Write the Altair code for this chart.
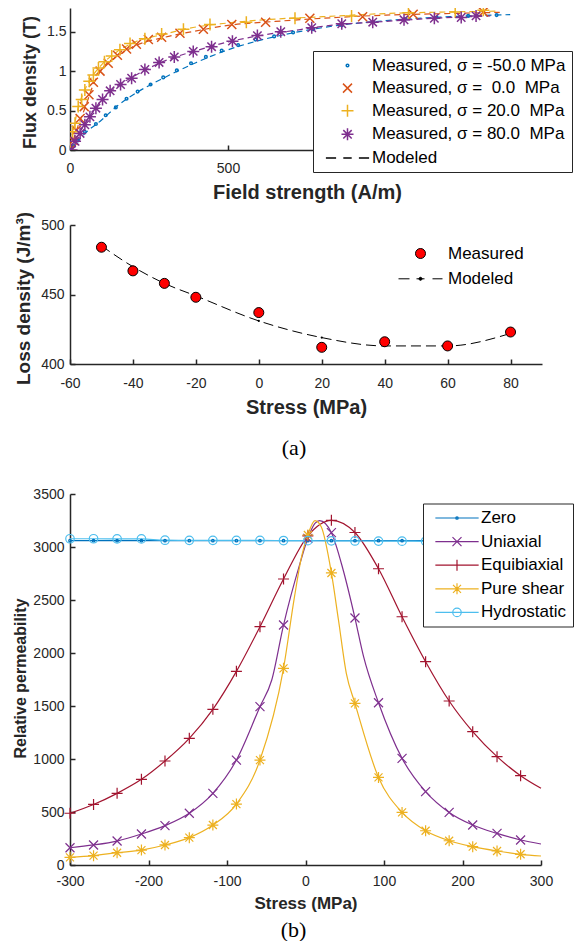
import altair as alt
import pandas as pd

FONT = "Liberation Sans"
AX = "#262626"

# ================= (a) top : flux density vs field strength =================
H_N50 = [0, 12, 25, 47, 82, 113, 145, 179, 214, 255, 295, 338, 383, 430, 480, 532, 587, 646, 706, 770, 860, 960, 1060, 1160, 1260, 1350]
B_N50 = [0, 0.05, 0.12, 0.23, 0.33, 0.44, 0.54, 0.65, 0.74, 0.83, 0.92, 1.01, 1.10, 1.18, 1.26, 1.33, 1.40, 1.44, 1.49, 1.53, 1.58, 1.62, 1.66, 1.68, 1.70, 1.71]
H_0 = [0, 10, 20, 32, 45, 60, 74, 95, 121, 150, 179, 210, 248, 290, 348, 422, 512, 619, 759, 926, 1086, 1308]
B_0 = [0, 0.12, 0.25, 0.40, 0.55, 0.70, 0.86, 1.00, 1.10, 1.20, 1.28, 1.34, 1.40, 1.43, 1.48, 1.53, 1.59, 1.62, 1.67, 1.69, 1.72, 1.75]
H_20 = [0, 8, 16, 26, 37, 47, 61, 74, 90, 109, 132, 158, 190, 237, 290, 359, 443, 558, 712, 891, 1071, 1219, 1308]
B_20 = [0, 0.23, 0.34, 0.55, 0.64, 0.76, 0.87, 0.95, 1.04, 1.12, 1.19, 1.27, 1.35, 1.41, 1.47, 1.53, 1.59, 1.62, 1.67, 1.70, 1.74, 1.75, 1.77]
H_80 = [5, 16, 32, 47, 63, 82, 103, 127, 160, 195, 237, 282, 330, 390, 448, 514, 593, 667, 765, 860, 958, 1057, 1153, 1238, 1285]
B_80 = [0, 0.11, 0.21, 0.32, 0.42, 0.53, 0.64, 0.75, 0.83, 0.91, 1.02, 1.11, 1.18, 1.25, 1.31, 1.38, 1.45, 1.50, 1.55, 1.60, 1.62, 1.65, 1.67, 1.68, 1.70]

HM_N50 = [0, 50, 100, 150, 200, 300, 400, 500, 600, 700, 850, 1000, 1200, 1393]
BM_N50 = [0, 0.22, 0.38, 0.56, 0.70, 0.92, 1.11, 1.27, 1.39, 1.48, 1.58, 1.64, 1.69, 1.716]
HM_0 = [0, 25, 50, 75, 100, 150, 200, 300, 400, 500, 650, 800, 1000, 1200, 1360]
BM_0 = [0, 0.30, 0.56, 0.84, 1.02, 1.19, 1.31, 1.43, 1.51, 1.58, 1.63, 1.67, 1.71, 1.73, 1.745]
HM_20 = [0, 25, 50, 75, 100, 150, 200, 300, 400, 500, 650, 800, 1000, 1200, 1350]
BM_20 = [0, 0.52, 0.79, 0.96, 1.08, 1.25, 1.36, 1.47, 1.56, 1.61, 1.66, 1.69, 1.73, 1.75, 1.76]
HM_80 = [0, 50, 100, 150, 200, 300, 400, 500, 600, 700, 850, 1000, 1150, 1330]
BM_80 = [0, 0.35, 0.63, 0.81, 0.93, 1.13, 1.26, 1.37, 1.45, 1.51, 1.59, 1.63, 1.67, 1.70]

NB = "\u00a0"
LAB1 = ["Measured, σ = -50.0 MPa",
        f"Measured, σ ={NB}{NB}0.0{NB}{NB}MPa",
        f"Measured, σ = 20.0{NB}{NB}MPa",
        f"Measured, σ = 80.0{NB}{NB}MPa"]
LEG1 = LAB1 + ["Modeled"]
COL1 = ["#0072BD", "#D95319", "#EDB120", "#7E2F8E", "#000000"]

# ================= (a) bottom : loss density vs stress =================
STRESS_LOSS = [-50, -40, -30, -20, 0, 20, 40, 60, 80]
LOSS_MEAS = [484, 467, 458, 448, 437, 412, 416, 413, 423]
LOSS_MOD = [485, 470, 458, 449, 431, 419, 413, 413, 422]

# ================= (b) : relative permeability vs stress =================
LAB3 = ["Zero", "Uniaxial", "Equibiaxial", "Pure shear", "Hydrostatic"]
COL3 = ["#0072BD", "#7E2F8E", "#A2142F", "#EDB120", "#4DBEEE"]
STRESS_MK = [-300, -270, -240, -209, -179, -148, -118, -88, -58, -28, 3, 33, 63, 93, 123, 153, 183, 213, 244, 274]
MK_ZERO = [3060, 3060, 3060, 3060, 3060, 3060, 3060, 3060, 3060, 3060, 3060, 3060, 3060, 3060, 3060, 3060, 3060, 3060, 3060, 3060]
MK_UNI = [163, 189, 226, 292, 371, 488, 676, 990, 1494, 2264, 3082, 3135, 2330, 1531, 1006, 692, 496, 377, 298, 236]
MK_EQU = [488, 571, 676, 808, 981, 1195, 1469, 1827, 2248, 2698, 3105, 3252, 3137, 2795, 2342, 1918, 1547, 1258, 1022, 843]
MK_PSH = [72, 88, 116, 141, 189, 258, 377, 575, 990, 1855, 3113, 2755, 1525, 826, 496, 323, 229, 173, 132, 101]
MK_HYD = [3078, 3078, 3077, 3076, 3064, 3063, 3063, 3062, 3062, 3061, 3060, 3058, 3057, 3056, 3055, 3054, 3053, 3052, 3051, 3050]

# extra points (between markers and at the right end)
EX_ZERO_S = [300]; EX_ZERO_V = [3060]
EX_UNI_S = [-43, -7, 12, 18, 48, 74, 300]; EX_UNI_V = [1745, 2846, 3222, 3248, 2783, 1965, 198]
EX_EQU_S = [300]; EX_EQU_V = [724]
EX_PSH_S = [-14, -5, 12, 20, 42, 52, 300]; EX_PSH_V = [2531, 2909, 3248, 3191, 2311, 1808, 85]
EX_HYD_S = [300]; EX_HYD_V = [3049]


def circ(r):
    return f"M{r},0A{r},{r} 0 1,1 -{r},0A{r},{r} 0 1,1 {r},0Z"

XS = "M-0.75,-0.75L0.75,0.75M-0.75,0.75L0.75,-0.75"
PLUS = "M-1,0H1M0,-1V1"
AST = "M-1,0H1M0,-1V1M-0.7,-0.7L0.7,0.7M-0.7,0.7L0.7,-0.7"
DASH1 = "M-3.6,0H-1.9M-0.7,0H0.7M1.9,0H3.6"
SHP1 = [circ(0.22), XS, PLUS, AST, DASH1]
DASH2 = "M-4.4,0H-2.2M-0.8,0H0.8M2.4,0H4.4" + circ(0.3)

MK3 = [circ(0.25), "M-0.9,-0.9L0.9,0.9M-0.9,0.9L0.9,-0.9", "M-1.1,0H1.1M0,-1.1V1.1",
       "M-1.1,0H1.1M0,-1.1V1.1M-0.8,-0.8L0.8,0.8M-0.8,0.8L0.8,-0.8", circ(0.85)]
LEGSHP3 = ["M-4.33,0H4.33" + m for m in MK3]


def tick_layer(df, xf, yf, xs, ys, xv, yv, W, H):
    # extra axes moved onto the plot edges so that their ticks point inward (MATLAB style)
    return alt.Chart(df).transform_filter("false").mark_point(opacity=0).encode(
        x=alt.X(f"{xf}:Q", scale=xs, axis=alt.Axis(orient="top", offset=-H, values=xv, labels=False,
                                                     domain=False, ticks=True, tickSize=5, tickWidth=1.5,
                                                     tickColor=AX, title=None, grid=False)),
        y=alt.Y(f"{yf}:Q", scale=ys, axis=alt.Axis(orient="right", offset=-W, values=yv, labels=False,
                                                     domain=False, ticks=True, tickSize=5, tickWidth=1.5,
                                                     tickColor=AX, title=None, grid=False)),
    )


def main_x(values, title, fs, ty, lp):
    return alt.Axis(values=values, title=title, titleFontSize=fs, titleY=ty, titleBaseline="alphabetic",
                    labelPadding=lp, labelExpr="'' + datum.value", ticks=False, tickSize=0)


def main_y(values, title, fs, tx, ty, lp):
    return alt.Axis(values=values, title=title, titleFontSize=fs, titleX=tx, titleY=ty, titleAngle=270,
                    titleAlign="center", titleBaseline="alphabetic", labelPadding=lp,
                    labelExpr="'' + datum.value", ticks=False, tickSize=0)


# ---------------- panel 1 ----------------
W1, H1 = 474, 142
meas1 = pd.concat([pd.DataFrame({"H": h, "B": b, "s": lab}) for h, b, lab in
                   zip([H_N50, H_0, H_20, H_80], [B_N50, B_0, B_20, B_80], LAB1)], ignore_index=True)
mod1 = pd.concat([pd.DataFrame({"H": h, "B": b, "s": lab}) for h, b, lab in
                  zip([HM_N50, HM_0, HM_20, HM_80], [BM_N50, BM_0, BM_20, BM_80], LAB1)], ignore_index=True)
xs1 = alt.Scale(domain=[0, 1500], nice=False, zero=False)
ys1 = alt.Scale(domain=[0, 1.8], nice=False)

lines1 = alt.Chart(mod1).mark_line(strokeDash=[6, 4], strokeWidth=1.2, interpolate="monotone", clip=True).encode(
    x=alt.X("H:Q", scale=xs1, axis=main_x([0, 500, 1000, 1500], "Field strength (A/m)", 20, 48, 11)),
    y=alt.Y("B:Q", scale=ys1, axis=main_y([0, 0.5, 1, 1.5], "Flux density (T)", 18, -35, 74, 4)),
    color=alt.Color("s:N", scale=alt.Scale(domain=LAB1, range=COL1[:4]), legend=None),
    detail="s:N",
)
leg1 = alt.Legend(title=None, orient="none", legendX=243, legendY=43, fillColor="white", strokeColor=AX,
                  padding=6, labelFont=FONT, labelFontSize=17, labelColor="black",
                  symbolSize=144, symbolStrokeWidth=1.5, symbolOffset=20, labelOffset=16, rowPadding=4.6,
                  labelLimit=400)
pts1 = alt.Chart(meas1).mark_point(filled=False, size=144, strokeWidth=1.5, opacity=1, clip=True).encode(
    x=alt.X("H:Q", scale=xs1, axis=None),
    y=alt.Y("B:Q", scale=ys1, axis=None),
    color=alt.Color("s:N", scale=alt.Scale(domain=LEG1, range=COL1), legend=leg1),
    shape=alt.Shape("s:N", scale=alt.Scale(domain=LEG1, range=SHP1), legend=leg1),
)
p1 = alt.layer(lines1, pts1, tick_layer(mod1, "H", "B", xs1, ys1, [0, 500, 1000, 1500], [0, 0.5, 1, 1.5], W1, H1)) \
    .resolve_scale(color="independent", shape="independent") \
    .resolve_axis(x="independent", y="independent").properties(width=W1, height=H1)

# ---------------- panel 2 ----------------
W2, H2 = 472, 139
meas2 = pd.DataFrame({"S": STRESS_LOSS, "L": LOSS_MEAS, "k": "Measured"})
mod2 = pd.DataFrame({"S": STRESS_LOSS, "L": LOSS_MOD})
xs2 = alt.Scale(domain=[-60, 90], nice=False, zero=False)
ys2 = alt.Scale(domain=[400, 500], nice=False, zero=False)
line2 = alt.Chart(mod2).mark_line(strokeDash=[10, 5], strokeWidth=1, color="black", interpolate="monotone").encode(
    x=alt.X("S:Q", scale=xs2, axis=main_x([-60, -40, -20, 0, 20, 40, 60, 80], "Stress (MPa)", 20, 49, 12)),
    y=alt.Y("L:Q", scale=ys2, axis=main_y([400, 450, 500], "Loss density (J/m³)", 19, -41, 73, 6)),
)
dots2 = alt.Chart(mod2).mark_point(filled=True, size=5, color="black", opacity=1).encode(
    x=alt.X("S:Q", scale=xs2, axis=None), y=alt.Y("L:Q", scale=ys2, axis=None))
leg2 = alt.Legend(title=None, orient="none", legendX=342, legendY=20, padding=0, labelFont=FONT,
                  labelFontSize=17, labelColor="black", symbolSize=100, symbolStrokeWidth=1,
                  labelOffset=19, rowPadding=7.3)
pts2 = alt.Chart(meas2).mark_point(filled=True, size=100, stroke="black", strokeWidth=1, opacity=1).encode(
    x=alt.X("S:Q", scale=xs2, axis=None),
    y=alt.Y("L:Q", scale=ys2, axis=None),
    color=alt.Color("k:N", scale=alt.Scale(domain=["Measured", "Modeled"], range=["#FF0000", "#000000"]), legend=leg2),
    shape=alt.Shape("k:N", scale=alt.Scale(domain=["Measured", "Modeled"], range=["circle", DASH2]), legend=leg2),
)
p2 = alt.layer(line2, dots2, pts2, tick_layer(mod2, "S", "L", xs2, ys2, [-60, -40, -20, 0, 20, 40, 60, 80], [400, 450, 500], W2, H2)) \
    .resolve_scale(color="independent", shape="independent") \
    .resolve_axis(x="independent", y="independent").properties(width=W2, height=H2)

# ---------------- panel 3 ----------------
W3, H3 = 471, 371
mk_vals = [MK_ZERO, MK_UNI, MK_EQU, MK_PSH, MK_HYD]
ex_s = [EX_ZERO_S, EX_UNI_S, EX_EQU_S, EX_PSH_S, EX_HYD_S]
ex_v = [EX_ZERO_V, EX_UNI_V, EX_EQU_V, EX_PSH_V, EX_HYD_V]
mk3 = pd.concat([pd.DataFrame({"S": STRESS_MK, "P": v, "s": lab}) for v, lab in zip(mk_vals, LAB3)], ignore_index=True)
ln3 = pd.concat([pd.DataFrame({"S": STRESS_MK + es, "P": v + ev, "s": lab}).sort_values("S")
                 for v, es, ev, lab in zip(mk_vals, ex_s, ex_v, LAB3)], ignore_index=True)
xs3 = alt.Scale(domain=[-300, 300], nice=False, zero=False)
ys3 = alt.Scale(domain=[0, 3500], nice=False)
lines3 = alt.Chart(ln3).mark_line(interpolate="monotone").encode(
    x=alt.X("S:Q", scale=xs3, axis=main_x([-300, -200, -100, 0, 100, 200, 300], "Stress (MPa)", 17, 43, 9)),
    y=alt.Y("P:Q", scale=ys3, axis=main_y([0, 500, 1000, 1500, 2000, 2500, 3000, 3500], "Relative permeability", 16, -45, 184, 6)),
    color=alt.Color("s:N", scale=alt.Scale(domain=LAB3, range=COL3), legend=None),
    strokeWidth=alt.StrokeWidth("s:N", scale=alt.Scale(domain=LAB3, range=[1.2, 1.2, 1.2, 1.2, 1.8]), legend=None),
    order=alt.Order("S:Q"),
)
pts3 = alt.Chart(mk3).mark_point(filled=False, size=100, strokeWidth=1.2, opacity=1).encode(
    x=alt.X("S:Q", scale=xs3, axis=None),
    y=alt.Y("P:Q", scale=ys3, axis=None),
    color=alt.Color("s:N", scale=alt.Scale(domain=LAB3, range=COL3), legend=None),
    shape=alt.Shape("s:N", scale=alt.Scale(domain=LAB3, range=MK3), legend=None),
)
leg3 = alt.Legend(title=None, orient="none", legendX=353, legendY=9.5, fillColor="white", strokeColor=AX,
                  padding=6, labelFont=FONT, labelFontSize=17, labelColor="black",
                  symbolSize=100, symbolStrokeWidth=1.2, symbolOffset=19.5, labelOffset=15.5, rowPadding=5.6)
legl3 = alt.Chart(mk3).transform_filter("false").mark_point(filled=False, size=100, strokeWidth=1.2, opacity=1).encode(
    x=alt.X("S:Q", scale=xs3, axis=None),
    y=alt.Y("P:Q", scale=ys3, axis=None),
    color=alt.Color("s:N", scale=alt.Scale(domain=LAB3, range=COL3), legend=leg3),
    shape=alt.Shape("s:N", scale=alt.Scale(domain=LAB3, range=LEGSHP3), legend=leg3),
)
p3 = alt.layer(lines3, pts3, legl3, tick_layer(mk3, "S", "P", xs3, ys3, [-300, -200, -100, 0, 100, 200, 300],
                                                [0, 500, 1000, 1500, 2000, 2500, 3000, 3500], W3, H3)) \
    .resolve_scale(color="independent", shape="independent") \
    .resolve_axis(x="independent", y="independent").properties(width=W3, height=H3)


def spacer(h, w, txt, dx=0, dy=0):
    return alt.Chart(pd.DataFrame({"t": [txt]})).mark_text(
        font="Liberation Serif", fontSize=22, color="black", dx=dx, dy=dy).encode(
        text="t:N").properties(width=w, height=h)


chart = alt.vconcat(
    p1, spacer(75, W1, ""), p2, spacer(130, W2, "(a)", -12, 19), p3, spacer(72, W3, "(b)", -12, 29),
    spacing=0, bounds="flush",
).properties(padding={"left": 4, "top": 0, "right": 0, "bottom": 0}, background="white").configure_view(
    stroke=None
).configure_axis(
    labelFont=FONT, labelFontSize=14, labelColor=AX, titleFont=FONT, titleFontWeight="bold",
    titleColor=AX, domainColor=AX, domainWidth=1.5, grid=False, labelFlush=False, labelOverlap=False
)

chart.save("out.html", embed_options={"renderer": "svg", "actions": False})
